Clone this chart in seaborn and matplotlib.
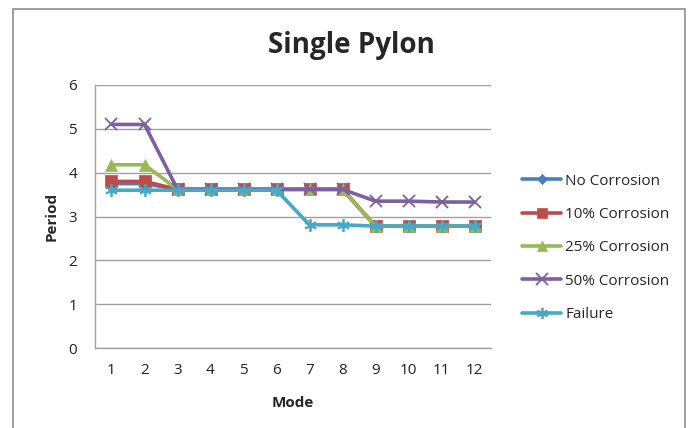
import matplotlib
matplotlib.use("Agg")
import matplotlib.pyplot as plt
import seaborn as sns
import pandas as pd
from matplotlib.patches import Rectangle
from matplotlib.lines import Line2D

modes = list(range(1, 13))
no_corrosion = [3.75, 3.75, 3.62, 3.62, 3.62, 3.62, 3.62, 3.62, 2.78, 2.78, 2.78, 2.78]
corr_10 = [3.80, 3.80, 3.62, 3.62, 3.62, 3.62, 3.62, 3.62, 2.78, 2.78, 2.78, 2.78]
corr_25 = [4.18, 4.18, 3.62, 3.62, 3.62, 3.62, 3.62, 3.62, 2.78, 2.78, 2.78, 2.78]
corr_50 = [5.10, 5.10, 3.62, 3.62, 3.62, 3.62, 3.62, 3.62, 3.35, 3.35, 3.33, 3.33]
failure = [3.60, 3.60, 3.60, 3.60, 3.60, 3.60, 2.81, 2.81, 2.78, 2.78, 2.78, 2.78]
series_names = ["No Corrosion", "10% Corrosion", "25% Corrosion", "50% Corrosion", "Failure"]
y_ticks = [0, 1, 2, 3, 4, 5, 6]

colors = ["#4A7EBB", "#BE4B48", "#98B954", "#7D60A0", "#46AAC5"]
markers = ["D", "s", "^", "x", (6, 2, 0)]
msizes = [6, 8, 8, 9, 9]

rows = []
for name, vals in zip(series_names, [no_corrosion, corr_10, corr_25, corr_50, failure]):
    for m, v in zip(modes, vals):
        rows.append({"Mode": m, "Period": v, "Series": name})
df = pd.DataFrame(rows)

sns.set_style("white")
plt.rcParams["font.family"] = ["Open Sans", "DejaVu Sans"]

fig = plt.figure(figsize=(6.94, 4.28), dpi=100)
ax = fig.add_axes([95/694, 1-348/428, (491-95)/694, (348-85)/428])

for name, c, mk, ms in zip(series_names, colors, markers, msizes):
    sub = df[df["Series"] == name]
    sns.lineplot(data=sub, x="Mode", y="Period", ax=ax, color=c, linewidth=2.6,
                 marker=mk, markersize=ms, markeredgecolor=c,
                 markeredgewidth=1.3 if mk == "x" or isinstance(mk, tuple) else 0.5,
                 legend=False, zorder=3)

ax.set_xlim(0.5, 12.5)
ax.set_ylim(0, 6)
ax.set_yticks(y_ticks)
ax.set_xticks(modes)
ax.set_xticks([i + 0.5 for i in range(0, 13)], minor=True)
ax.yaxis.grid(True, color="#A0A0A0", linewidth=1)
ax.set_axisbelow(True)
for s in ["top", "right"]:
    ax.spines[s].set_visible(False)
for s in ["left", "bottom"]:
    ax.spines[s].set_color("#A0A0A0")
    ax.spines[s].set_linewidth(1)
ax.tick_params(axis="x", which="major", length=0, pad=11, labelsize=11, labelcolor="#222222")
ax.tick_params(axis="x", which="minor", length=5, color="#A0A0A0", direction="out")
ax.tick_params(axis="y", which="major", length=5, color="#A0A0A0", direction="out", pad=8,
               labelsize=11, labelcolor="#222222")
ax.set_xlabel("Mode", fontsize=11, fontweight="bold", labelpad=13)
ax.set_ylabel("Period", fontsize=11, fontweight="bold", labelpad=7)

fig.text(351/694, 1-45/428, "Single Pylon", ha="center", va="center", fontsize=20, fontweight="bold")

handles = [Line2D([0], [0], color=c, linewidth=2.6, marker=mk, markersize=ms * 0.9, markeredgecolor=c,
                  markeredgewidth=1.3 if mk == "x" or isinstance(mk, tuple) else 0.5)
           for c, mk, ms in zip(colors, markers, msizes)]
fig.legend(handles, series_names, loc="center left", bbox_to_anchor=(508/694, 1-248/428),
           frameon=False, fontsize=11, handlelength=2.6, handletextpad=0.25, labelspacing=1.2)

fig.patches.append(Rectangle((13/694, -0.01), (685-13)/694, 1 - 9/428 + 0.01, transform=fig.transFigure,
                             fill=False, edgecolor="#8C8C8C", linewidth=1.2))

fig.savefig("out.png", dpi=100)
